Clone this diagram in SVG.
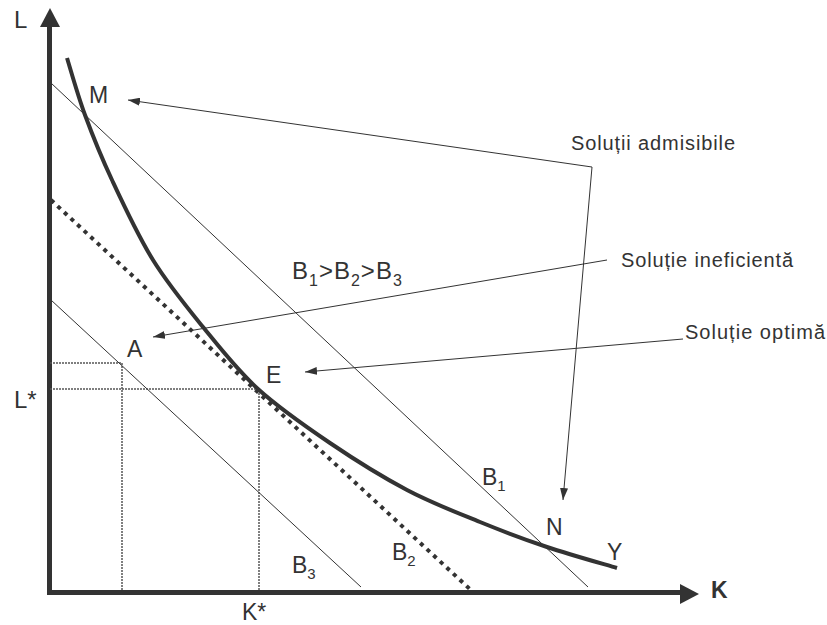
<svg xmlns="http://www.w3.org/2000/svg" width="827" height="625" viewBox="0 0 827 625">
<defs>
<style>
.t{font-family:"Liberation Sans",Arial,sans-serif;fill:#333}
.p{font-size:23px}
.s{font-size:15px}
.n{font-size:20px}
.thin{stroke:#333;stroke-width:1;fill:none}
.guide{stroke:#555;stroke-width:1.5;fill:none;stroke-dasharray:2 1}
</style>
<marker id="ah" viewBox="0 0 12 8" refX="12" refY="4" markerWidth="12" markerHeight="8" markerUnits="userSpaceOnUse" orient="auto">
<path d="M0,0 L12,4 L0,8 Z" fill="#333"/>
</marker>
</defs>
<rect width="827" height="625" fill="#fff"/>
<g id="axes">
<line x1="49.5" y1="595" x2="49.5" y2="26" stroke="#333" stroke-width="5"/>
<polygon points="50,8 40,27 60,27" fill="#333"/>
<line x1="47" y1="592.5" x2="682" y2="592.5" stroke="#333" stroke-width="5"/>
<polygon points="699,594 680,584 680,604" fill="#333"/>
<text class="t" x="14" y="28" font-size="24">L</text>
<text class="t" x="711" y="598" font-size="23" font-weight="bold">K</text>
</g>
<g id="guides">
<polyline class="guide" points="50,363 122,363 122,590"/>
<polyline class="guide" points="50,389 259,389 259,590"/>
<text class="t" x="14" y="408" font-size="24">L*</text>
<text class="t" x="242" y="620" font-size="23">K*</text>
</g>
<g id="B1">
<line class="thin" x1="51" y1="83" x2="588" y2="587"/>
<text class="t p" x="482" y="485">B<tspan class="s" dy="6">1</tspan></text>
</g>
<g id="B2">
<line x1="51" y1="200" x2="473" y2="592" stroke="#333" stroke-width="4" stroke-dasharray="4 5"/>
<text class="t p" x="392" y="560">B<tspan class="s" dy="6">2</tspan></text>
</g>
<g id="B3">
<line class="thin" x1="51" y1="300" x2="361" y2="587"/>
<text class="t p" x="292" y="573">B<tspan class="s" dy="6">3</tspan></text>
</g>
<g id="Y">
<path d="M67,58 C70,67.5 77.5,94.7 85,115 C92.5,135.3 100.7,155.8 112,180 C123.3,204.2 137.8,235.5 153,260 C168.2,284.5 185.5,305.5 203,327 C220.5,348.5 236.8,369.7 258,389 C279.2,408.3 305.2,426.2 330,443 C354.8,459.8 382,476.8 407,490 C432,503.2 456.7,512.5 480,522 C503.3,531.5 524.2,539.3 547,547 C569.8,554.7 605.3,564.5 617,568" fill="none" stroke="#333" stroke-width="4"/>
<text class="t p" x="607" y="560">Y</text>
</g>
<g id="points">
<text class="t p" x="89" y="103">M</text>
<text class="t p" x="127" y="357">A</text>
<text class="t p" x="266" y="383">E</text>
<text class="t p" x="546" y="535">N</text>
<text class="t" x="292" y="279" font-size="24" letter-spacing="1">B<tspan font-size="16" dy="7">1</tspan><tspan dy="-7">&gt;B</tspan><tspan font-size="16" dy="7">2</tspan><tspan dy="-7">&gt;B</tspan><tspan font-size="16" dy="7">3</tspan></text>
</g>
<g id="connectors">
<polyline class="thin" points="592,167 128,100" marker-end="url(#ah)"/>
<polyline class="thin" points="592,167 563,500" marker-end="url(#ah)"/>
<line class="thin" x1="607" y1="260" x2="153" y2="337" marker-end="url(#ah)"/>
<line class="thin" x1="683" y1="339" x2="305" y2="372" marker-end="url(#ah)"/>
</g>
<g id="labels">
<text class="t n" x="571" y="150" textLength="164">Soluții admisibile</text>
<text class="t n" x="621" y="267" textLength="172">Soluție ineficientă</text>
<text class="t n" x="685" y="339" textLength="140">Soluție optimă</text>
</g>
</svg>
